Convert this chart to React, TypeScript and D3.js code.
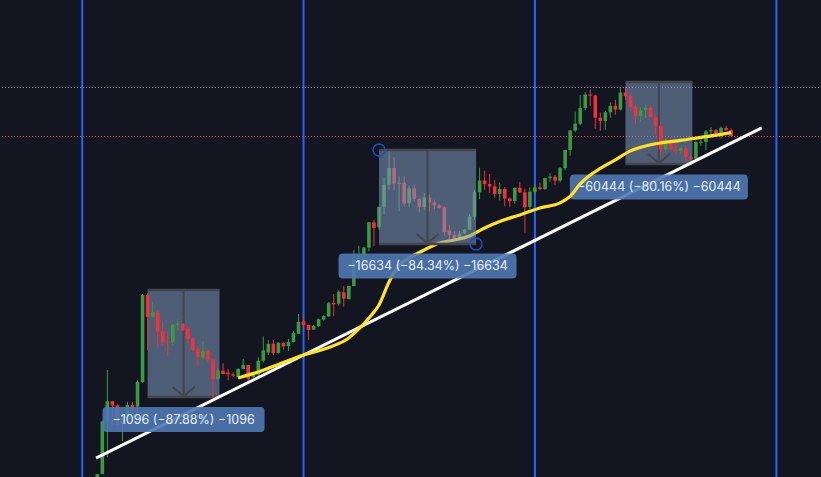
// App.tsx
import React from 'react';
import * as d3 from 'd3';

const WIDTH = 821;
const HEIGHT = 477;

const FIRST_MONTH = '2013-02';

// monthly candles, Feb 2013 .. Aug 2023, one row per year
const OPENS = [
  20, 33, 93, 139, 128, 89, 99, 129, 125, 203, 1130,
  734, 800, 550, 450, 445, 625, 640, 585, 478, 388, 330, 375,
  315, 217, 254, 244, 236, 223, 263, 284, 223, 236, 309, 363,
  432, 360, 437, 412, 447, 525, 672, 625, 570, 608, 695, 740,
  965, 950, 1190, 1040, 1347, 2300, 2480, 2875, 4735, 4300, 6450, 9950,
  13830, 10250, 10320, 6930, 9240, 7500, 6400, 7730, 7000, 6625, 6350, 4020,
  3700, 3430, 3810, 4100, 5300, 8570, 10800, 10080, 9600, 8300, 9150, 7570,
  7200, 9350, 8550, 6430, 8630, 9450, 9140, 11340, 11650, 10780, 13800, 19700,
  28950, 33100, 45200, 58800, 57700, 37300, 35000, 41500, 47100, 43800, 61300, 57000,
  46200, 38500, 43200, 45500, 37700, 31800, 19900, 23300, 20000, 19400, 20500, 17200,
  16500, 22900, 23100, 28500, 29200, 27200, 30500, 29200,
];
const HIGHS = [
  33, 95, 257, 140, 130, 110, 137, 137, 210, 1150, 1163,
  985, 825, 668, 548, 640, 700, 650, 605, 490, 415, 455, 385,
  320, 266, 295, 262, 245, 266, 320, 284, 245, 330, 500, 465,
  465, 445, 445, 475, 555, 777, 737, 630, 625, 710, 760, 985,
  1150, 1240, 1350, 1350, 2740, 2980, 2920, 4750, 5000, 6470, 11500, 19720,
  17100, 11700, 11700, 9750, 10000, 7750, 8470, 8200, 7400, 6800, 6500, 4500,
  4000, 4000, 4150, 5600, 9000, 13880, 13100, 12300, 10900, 10370, 9500, 7700,
  9400, 10500, 9200, 9450, 10000, 10400, 11400, 12480, 12050, 14100, 19850, 29300,
  41950, 58400, 61800, 64900, 58800, 41300, 42500, 50500, 52900, 66900, 69000, 59000,
  47900, 45800, 48200, 47500, 40000, 32400, 24700, 25200, 22800, 21000, 21500, 18400,
  23800, 25200, 29200, 31000, 29800, 31400, 31800, 30100,
];
const LOWS = [
  19, 33, 46, 85, 80, 63, 99, 115, 90, 200, 380,
  720, 400, 420, 339, 420, 565, 555, 440, 375, 275, 316, 300,
  150, 210, 236, 210, 225, 223, 260, 200, 223, 228, 300, 345,
  345, 355, 385, 375, 443, 525, 600, 465, 565, 605, 680, 735,
  745, 915, 900, 1040, 1340, 2300, 1830, 2670, 2970, 4100, 5500, 9000,
  9000, 5900, 6450, 6430, 7100, 5770, 6000, 5880, 6100, 6200, 3650, 3130,
  3350, 3400, 3800, 4060, 5000, 7450, 9000, 8500, 7700, 7300, 6500, 6430,
  6850, 8450, 3860, 6150, 8150, 8900, 8950, 10530, 9850, 10370, 13200, 17600,
  28100, 32300, 43000, 47000, 30000, 28800, 29300, 37300, 39600, 43000, 53000, 42000,
  32900, 34400, 37200, 37500, 26700, 17600, 18800, 19500, 18100, 18100, 15500, 16300,
  16500, 21400, 19600, 26900, 25900, 24800, 29000, 25800,
];
const CLOSES = [
  33, 93, 139, 128, 87, 99, 129, 118, 203, 1129, 734,
  800, 548, 443, 440, 625, 640, 565, 475, 380, 331, 375, 316,
  215, 254, 238, 236, 230, 263, 284, 216, 242, 308, 378, 430,
  358, 440, 410, 448, 537, 664, 625, 565, 615, 700, 745, 960,
  940, 1205, 1050, 1347, 2300, 2480, 2875, 4740, 4240, 6400, 9940, 13830,
  10220, 10320, 6850, 9240, 7530, 6400, 7730, 7000, 6625, 6300, 3900, 3700,
  3430, 3800, 4100, 5300, 8570, 10800, 10080, 9600, 8300, 9150, 7570, 7190,
  9350, 8550, 6400, 8650, 9450, 9140, 11350, 11650, 10780, 13800, 19700, 28950,
  33100, 45200, 58800, 57700, 37300, 35000, 41500, 47100, 43800, 61300, 57000, 46200,
  38500, 43200, 45500, 37700, 31800, 19900, 23300, 20000, 19400, 20500, 17200, 16500,
  23100, 23150, 28500, 29200, 27200, 30500, 29200, 25900,
];

// moving average
const MA_MONTHS = [
  '2015-06', '2015-10', '2016-02', '2016-07', '2016-12', '2017-04', '2017-06', '2017-08', '2017-10',
  '2017-12', '2018-02', '2018-04', '2018-07', '2018-10', '2019-01', '2019-04', '2019-07', '2019-10',
  '2020-02', '2020-06', '2020-10', '2020-12', '2021-02', '2021-04', '2021-06', '2021-09', '2021-12',
  '2022-03', '2022-06', '2022-10', '2023-02', '2023-06', '2023-08',
];
const MA_VALUES = [
  220, 247, 287, 346, 401, 484, 578, 718, 928,
  1460, 2042, 2345, 2746, 3153, 3345, 3619, 4239, 4818,
  5478, 6290, 6941, 7890, 10097, 12058, 13700, 16210, 19365,
  21370, 22670, 23820, 25280, 26800, 27790,
];

const HALVING_MONTHS = ['2012-11', '2016-07', '2020-05', '2024-05'];
const TREND_INDEX = [-0.25, 132.1]; // months since FIRST_MONTH
const TREND_PRICES = [45.3, 30540];
const LEVEL_GREY = 68300;
const LEVEL_RED = 25780;

const DROP_STARTS = ['2013-12', '2017-10', '2021-11'];
const DROP_ENDS = ['2015-02', '2019-05', '2022-12'];
const DROP_HIGHS = [1247, 19722, 75404];
const DROP_LOWS = [151, 3088, 14960];
const DROP_LABELS = ['−1096 (−87.88%) −1096', '−16634 (−84.34%) −16634', '−60444 (−80.16%) −60444'];
const LABEL_PRICES = [96.8, 2002, 9512];

const monthIndex = (m: string) => {
  const [yr, mo] = m.split('-');
  const [fy, fm] = FIRST_MONTH.split('-');
  return (+yr - +fy) * 12 + (+mo - +fm);
};

const x = d3.scaleLinear().domain([0, 126]).range([97.3, 731.1]);
const y = d3.scaleLog().domain([151, 75404]).range([397, 82]);

const UP = '#3b9a42';
const DOWN = '#f2303f';
const BG = '#131620';
const BLUE = '#2962ff';
const GREY_LINE = '#45464c';

const candles = OPENS.map((open, i) => ({ i, open, high: HIGHS[i], low: LOWS[i], close: CLOSES[i] }));

const DropBox = ({ idx }: { idx: number }) => {
  const x0 = x(monthIndex(DROP_STARTS[idx]));
  const x1 = x(monthIndex(DROP_ENDS[idx])) + 1.5;
  const yTop = y(DROP_HIGHS[idx]);
  const yBottom = y(DROP_LOWS[idx]);
  const xMid = (x0 + x1) / 2;
  return (
    <g>
      <rect x={x0} y={yTop} width={x1 - x0} height={yBottom - yTop} fill="#7d97bc" fillOpacity={0.56} />
      <line x1={x0} x2={x1} y1={yTop} y2={yTop} stroke={GREY_LINE} strokeWidth={2.4} />
      <line x1={x0} x2={x1} y1={yBottom} y2={yBottom} stroke={GREY_LINE} strokeWidth={2.4} />
      <line x1={xMid} x2={xMid} y1={yTop} y2={yBottom} stroke={GREY_LINE} strokeWidth={2.2} />
      <path d={`M${xMid - 11},${yBottom - 10}L${xMid},${yBottom - 1}L${xMid + 11},${yBottom - 10}`} fill="none" stroke={GREY_LINE} strokeWidth={2.2} />
    </g>
  );
};

const DropLabel = ({ idx }: { idx: number }) => {
  const xMid = (x(monthIndex(DROP_STARTS[idx])) + x(monthIndex(DROP_ENDS[idx])) + 1.5) / 2;
  const yMid = y(LABEL_PRICES[idx]);
  const w = idx === 0 ? 162 : 178;
  return (
    <g>
      <rect x={xMid - w / 2} y={yMid - 12.5} width={w} height={25} rx={4} fill="#4f78b2" fillOpacity={0.9} />
      <text x={xMid} y={yMid} dy="0.35em" textAnchor="middle" fontFamily="Inter, sans-serif" fontSize={12.5} fill="#e9eef6">
        {DROP_LABELS[idx]}
      </text>
    </g>
  );
};

export default function App() {
  const bodyWidth = 3.6;
  const maLine = d3.line<number>()
    .x((_, i) => x(monthIndex(MA_MONTHS[i])))
    .y(d => y(d))
    .curve(d3.curveMonotoneX);
  const trendLine = d3.line<number>()
    .x((_, i) => x(TREND_INDEX[i]))
    .y(d => y(d));

  return (
    <svg width={WIDTH} height={HEIGHT} style={{ position: 'absolute', left: 0, top: 0, display: 'block' }}>
      <rect width={WIDTH} height={HEIGHT} fill={BG} />
      <line x1={2} x2={WIDTH} y1={y(LEVEL_GREY)} y2={y(LEVEL_GREY)} stroke="#868993" strokeWidth={1} strokeDasharray="1 2" shapeRendering="crispEdges" />
      <line x1={2} x2={WIDTH} y1={y(LEVEL_RED)} y2={y(LEVEL_RED)} stroke="#f23645" strokeWidth={1} strokeDasharray="1 2" shapeRendering="crispEdges" />
      {HALVING_MONTHS.map(m => (
        <line key={m} x1={x(monthIndex(m))} x2={x(monthIndex(m))} y1={0} y2={HEIGHT} stroke={BLUE} strokeWidth={2} />
      ))}

      <DropBox idx={0} />
      <DropBox idx={2} />

      {candles.map(c => {
        const color = c.close >= c.open ? UP : DOWN;
        const top = y(Math.max(c.open, c.close));
        const bottom = y(Math.min(c.open, c.close));
        return (
          <g key={c.i}>
            <line x1={x(c.i)} x2={x(c.i)} y1={y(c.high)} y2={y(c.low)} stroke={color} strokeWidth={1} />
            <rect x={x(c.i) - bodyWidth / 2} y={top} width={bodyWidth} height={Math.max(bottom - top, 1)} fill={color} />
          </g>
        );
      })}

      <path d={trendLine(TREND_PRICES) ?? ''} fill="none" stroke="#ffffff" strokeWidth={3} />
      {/* the last label sits under the yellow line, the other two over it */}
      <DropLabel idx={2} />
      <path d={maLine(MA_VALUES) ?? ''} fill="none" stroke="#ffe12e" strokeWidth={3.2} />

      <DropBox idx={1} />

      <circle cx={x(monthIndex(DROP_STARTS[1]))} cy={y(DROP_HIGHS[1])} r={6} fill="none" stroke="#1f4fc8" strokeWidth={1.5} />
      <circle cx={x(monthIndex(DROP_ENDS[1])) + 1.5} cy={y(DROP_LOWS[1])} r={6} fill="none" stroke="#1f4fc8" strokeWidth={1.5} />

      <DropLabel idx={0} />
      <DropLabel idx={1} />
    </svg>
  );
}
